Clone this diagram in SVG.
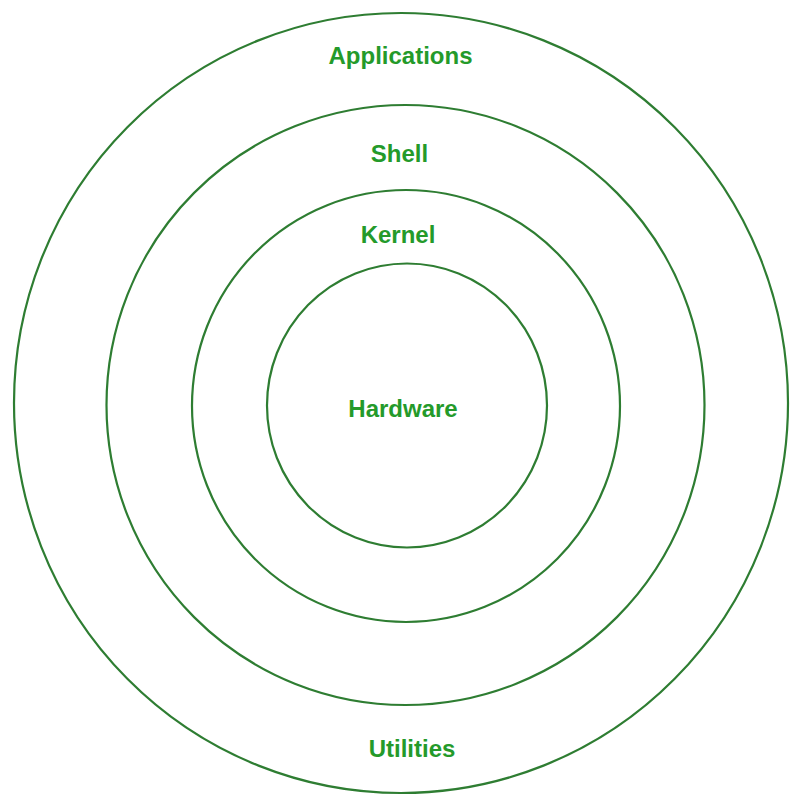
<svg xmlns="http://www.w3.org/2000/svg" width="790" height="798" viewBox="0 0 790 798">
<style>
.ring{fill:none;stroke:#2e7d32;stroke-width:2.2}
.lbl{font-family:"Liberation Sans",Arial,sans-serif;font-weight:bold;font-size:24px;fill:#249a2a;text-anchor:middle}
</style>
<rect width="790" height="798" fill="#ffffff"/>
<g id="applications">
<ellipse class="ring" cx="401" cy="403" rx="387" ry="390"/>
<text class="lbl" x="400.5" y="64">Applications</text>
<text class="lbl" x="412" y="757">Utilities</text>
</g>
<g id="shell">
<ellipse class="ring" cx="405.5" cy="405" rx="299" ry="300"/>
<text class="lbl" x="399.5" y="162">Shell</text>
</g>
<g id="kernel">
<ellipse class="ring" cx="406" cy="406" rx="214" ry="216"/>
<text class="lbl" x="398" y="243">Kernel</text>
</g>
<g id="hardware">
<ellipse class="ring" cx="407" cy="405.5" rx="140" ry="142"/>
<text class="lbl" x="403" y="417">Hardware</text>
</g>
<g id="connectors"></g>
</svg>
